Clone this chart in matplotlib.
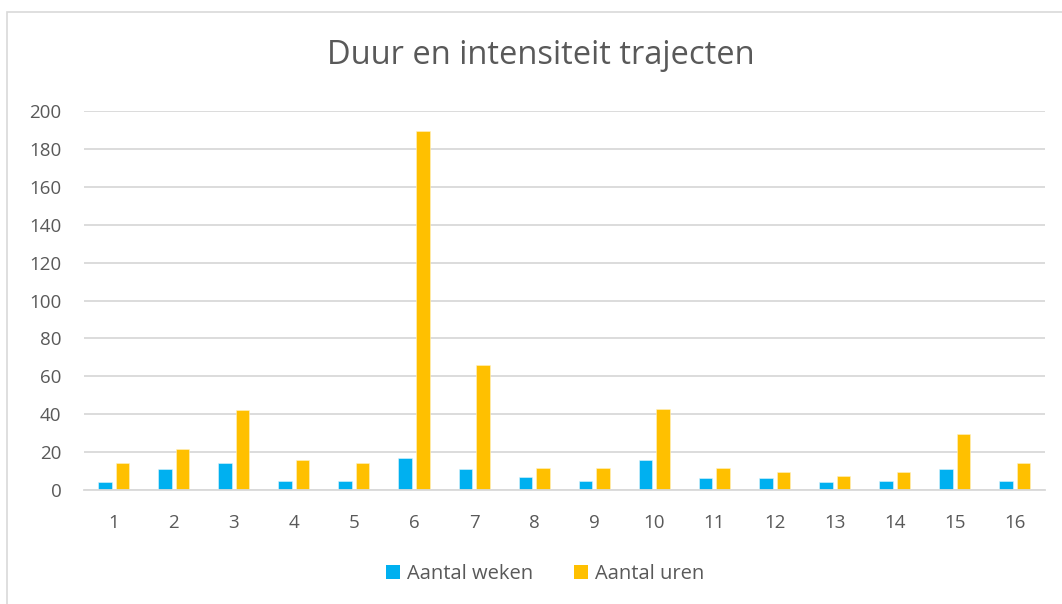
import matplotlib
matplotlib.use("Agg")
import matplotlib.pyplot as plt
from matplotlib.patches import Rectangle, Patch
import numpy as np

categories = [str(i) for i in range(1, 17)]
weken = [4, 11, 14, 5, 4.5, 17, 11, 7, 5, 16, 6.5, 6.5, 4, 4.5, 11, 4.5]
uren = [14, 21.5, 42, 16, 14.5, 189.5, 66, 11.5, 11.5, 43, 11.5, 9.5, 7.5, 9.5, 29.5, 14.5]
yticks = [0, 20, 40, 60, 80, 100, 120, 140, 160, 180, 200]
title = "Duur en intensiteit trajecten"
series_names = ["Aantal weken", "Aantal uren"]

W, H = 1062, 604
fig = plt.figure(figsize=(W / 100, H / 100), dpi=100)
plt.rcParams['font.family'] = ['Open Sans', 'DejaVu Sans']

txt = '#595959'
blue = '#00B0F0'
orange = '#FFC000'

# chart border
fig.patches.append(Rectangle((7 / W, -0.1), 1.2, 1 - 12 / H + 0.1, transform=fig.transFigure,
                             fill=False, edgecolor='#d9d9d9', linewidth=1.2))

left, right = 83.5 / W, 1045 / W
bottom, top = (H - 490) / H, (H - 111) / H
ax = fig.add_axes([left, bottom, right - left, top - bottom])

x = np.arange(len(categories))
bw = 0.225
off = 0.146
ax.bar(x - off, weken, width=bw, color=blue, edgecolor='#dff4fc', linewidth=0.4, zorder=3)
ax.bar(x + off, uren, width=bw, color=orange, edgecolor='#fff1c4', linewidth=0.4, zorder=3)

ax.set_xlim(-0.5, len(categories) - 0.5)
ax.set_ylim(0, 200)
ax.set_yticks(yticks)
ax.set_yticklabels([str(v) for v in yticks])
ax.set_xticks(x)
ax.set_xticklabels(categories)
ax.tick_params(axis='both', length=0, labelsize=13.5, colors=txt)
ax.tick_params(axis='y', pad=16)
ax.tick_params(axis='x', pad=17)
ax.grid(axis='y', color='#d9d9d9', linewidth=1.3, zorder=0)
for s in ['top', 'right', 'left']:
    ax.spines[s].set_visible(False)
ax.spines['bottom'].set_color('#d9d9d9')
ax.spines['bottom'].set_linewidth(1.3)
ax.spines['bottom'].set_zorder(4)

fig.text(540.5 / W, 1 - 55 / H, title, ha='center', va='center', fontsize=23.5, color=txt)

handles = [Patch(facecolor=blue), Patch(facecolor=orange)]
fig.legend(handles, series_names, loc='center', bbox_to_anchor=(545 / W, 1 - 574 / H),
           ncol=2, frameon=False, fontsize=14.5, labelcolor=txt, handlelength=0.7,
           handleheight=0.7, handletextpad=0.35, columnspacing=2.0)

fig.savefig('out.png', dpi=100)
